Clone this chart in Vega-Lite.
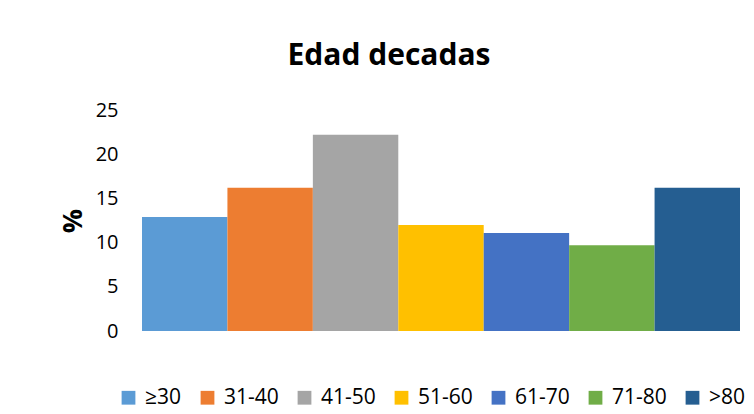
{
  "$schema": "https://vega.github.io/schema/vega-lite/v6.json",
  "width": 598,
  "height": 221,
  "autosize": {"type": "none"},
  "padding": {"left": 142, "top": 110, "right": 14, "bottom": 83},
  "background": "white",
  "title": {
    "text": "Edad decadas",
    "font": "Open Sans",
    "fontSize": 30,
    "fontWeight": "bold",
    "color": "#000000",
    "anchor": "middle",
    "baseline": "alphabetic",
    "offset": 45,
    "dx": -52,
    "dy": 40
  },
  "data": {
    "values": [
      {"grupo": "≥30", "porcentaje": 12.9},
      {"grupo": "31-40", "porcentaje": 16.2},
      {"grupo": "41-50", "porcentaje": 22.2},
      {"grupo": "51-60", "porcentaje": 12.0},
      {"grupo": "61-70", "porcentaje": 11.1},
      {"grupo": "71-80", "porcentaje": 9.7},
      {"grupo": ">80", "porcentaje": 16.2}
    ]
  },
  "mark": {"type": "bar"},
  "encoding": {
    "x": {
      "field": "grupo",
      "type": "nominal",
      "sort": null,
      "axis": null,
      "scale": {"paddingInner": 0, "paddingOuter": 0}
    },
    "y": {
      "field": "porcentaje",
      "type": "quantitative",
      "scale": {"domain": [0, 25]},
      "axis": {
        "title": "%",
        "values": [0, 5, 10, 15, 20, 25],
        "grid": false,
        "domain": false,
        "ticks": false,
        "labelPadding": 24,
        "labelFont": "Open Sans",
        "labelFontSize": 20,
        "labelColor": "#000000",
        "titleFont": "Open Sans",
        "titleFontSize": 27,
        "titleFontWeight": "bold",
        "titleColor": "#000000",
        "titlePadding": 8
      }
    },
    "color": {
      "field": "grupo",
      "type": "nominal",
      "sort": null,
      "scale": {
        "domain": ["≥30", "31-40", "41-50", "51-60", "61-70", "71-80", ">80"],
        "range": ["#5B9BD5", "#ED7D31", "#A5A5A5", "#FFC000", "#4472C4", "#70AD47", "#255E91"]
      },
      "legend": {
        "title": null,
        "orient": "none",
        "legendX": -24,
        "legendY": 277,
        "direction": "horizontal",
        "columns": 7,
        "symbolType": "square",
        "symbolSize": 190,
        "symbolStrokeWidth": 0,
        "symbolOpacity": 1,
        "labelFont": "Open Sans",
        "labelFontSize": 21,
        "labelColor": "#000000",
        "labelOffset": 6,
        "columnPadding": 15
      }
    }
  },
  "config": {
    "view": {"stroke": null}
  }
}
